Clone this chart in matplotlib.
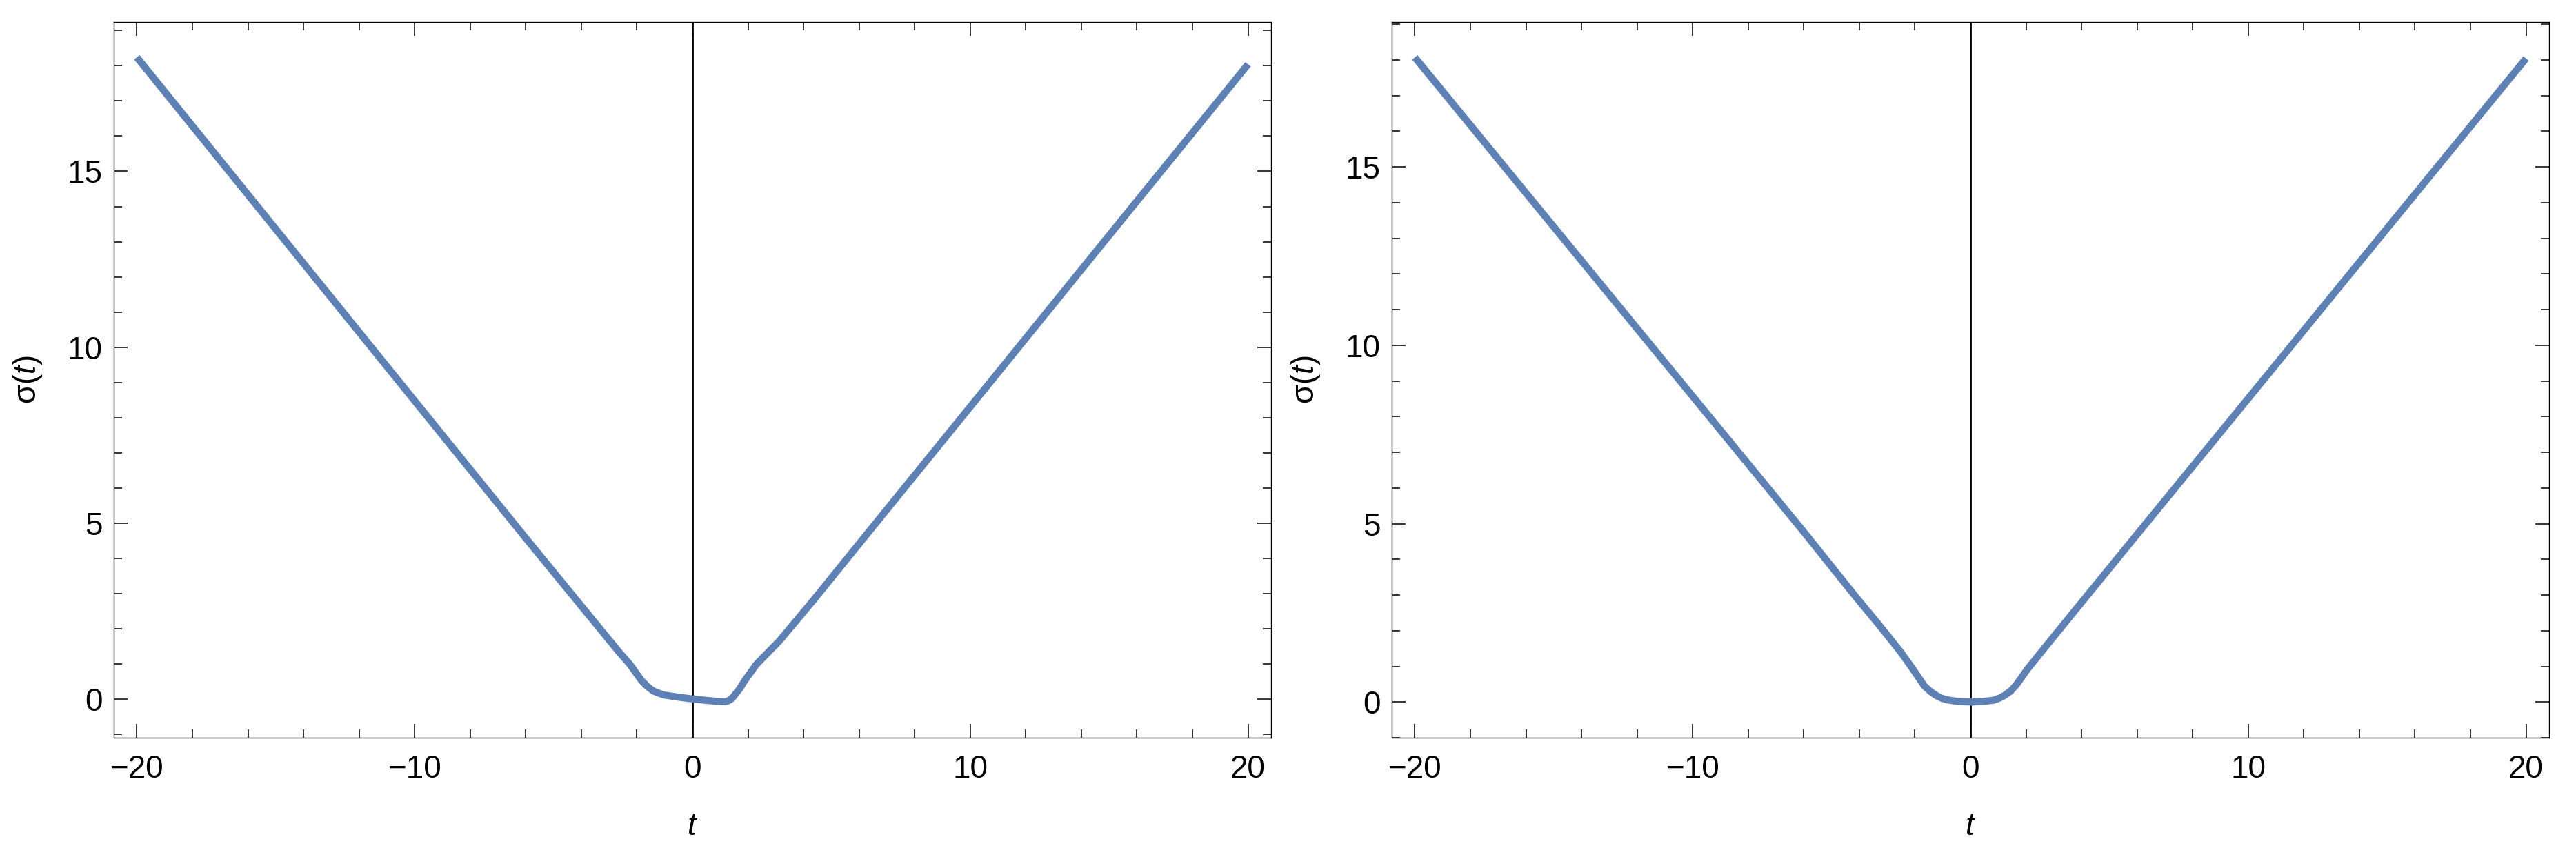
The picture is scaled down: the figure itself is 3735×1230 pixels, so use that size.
import matplotlib
matplotlib.use("Agg")
import matplotlib.pyplot as plt
from matplotlib.ticker import MultipleLocator

plt.rcParams['font.family'] = ['Liberation Sans', 'DejaVu Sans']
plt.rcParams['mathtext.fontset'] = 'custom'
plt.rcParams['mathtext.rm'] = 'Liberation Sans'
plt.rcParams['mathtext.it'] = 'Liberation Sans:italic'

# Left panel: sigma(t)
t_left = [-20, -15, -10, -6, -4.32, -3.49, -2.66, -2.25, -1.84, -1.63, -1.42, -1.2, -1.01,
          -0.5, 0, 0.5, 0.98, 1.2, 1.35, 1.47, 1.58, 1.7, 1.89, 2.3, 3.13, 4.37, 6, 10, 15, 20]
s_left = [18.24, 13.36, 8.48, 4.58, 2.96, 2.16, 1.36, 0.99, 0.54, 0.37, 0.24, 0.17, 0.12,
          0.06, 0.01, -0.03, -0.065, -0.07, -0.02, 0.07, 0.18, 0.3, 0.54, 0.99, 1.66, 2.83, 4.42, 8.31, 13.18, 18.04]

# Right panel: sigma(t)
t_right = [-20, -15, -10, -6, -4.14, -3.32, -2.49, -2.08, -1.66, -1.45, -1.25, -1.05, -0.84,
           -0.4, 0, 0.4, 0.83, 1.05, 1.24, 1.45, 1.65, 2.06, 2.89, 4.29, 6, 10, 15, 20]
s_right = [18.07, 13.32, 8.57, 4.77, 2.96, 2.19, 1.38, 0.93, 0.45, 0.30, 0.19, 0.11, 0.06,
           0.01, 0.0, 0.01, 0.05, 0.11, 0.19, 0.31, 0.48, 0.93, 1.73, 3.07, 4.70, 8.51, 13.28, 18.04]

panels = [(t_left, s_left, (-1.09, 19.24)), (t_right, s_right, (-1.0, 19.06))]

W, H = 3735, 1230
fig = plt.figure(figsize=(W / 100, H / 100), dpi=100)
lefts = [165, 2018]
curve_color = '#5E81B5'

for (tt, ss, ylim), lpx in zip(panels, lefts):
    ax = fig.add_axes([lpx / W, 1 - 1070 / H, 1678 / W, 1038 / H])
    ax.plot(tt, ss, color=curve_color, lw=7.4, solid_capstyle='butt', solid_joinstyle='round', zorder=3)
    ax.axvline(0, color='black', lw=2.0, zorder=2)
    ax.set_xlim(-20.83, 20.83)
    ax.set_ylim(*ylim)
    ax.xaxis.set_major_locator(MultipleLocator(10))
    ax.xaxis.set_minor_locator(MultipleLocator(2))
    ax.yaxis.set_major_locator(MultipleLocator(5))
    ax.yaxis.set_minor_locator(MultipleLocator(1))
    ax.tick_params(which='both', direction='in', top=True, right=True, width=1.1, colors='black')
    ax.tick_params(which='major', length=14.4)
    ax.tick_params(which='minor', length=8.8)
    ax.tick_params(axis='x', which='major', pad=17, labelsize=33)
    ax.tick_params(axis='y', which='major', pad=12, labelsize=33)
    for sp in ax.spines.values():
        sp.set_linewidth(1.0)
        sp.set_color('black')
    ax.set_xlabel('$t$', fontsize=33)
    ax.xaxis.set_label_coords(0.5, -0.124)
    ax.xaxis.label.set_va('center')
    ax.set_ylabel('σ($t$)', fontsize=33)
    ax.yaxis.set_label_coords(-0.0745, 0.5)
    ax.yaxis.label.set_va('center')

fig.savefig('out.png', dpi=100, facecolor='white')
